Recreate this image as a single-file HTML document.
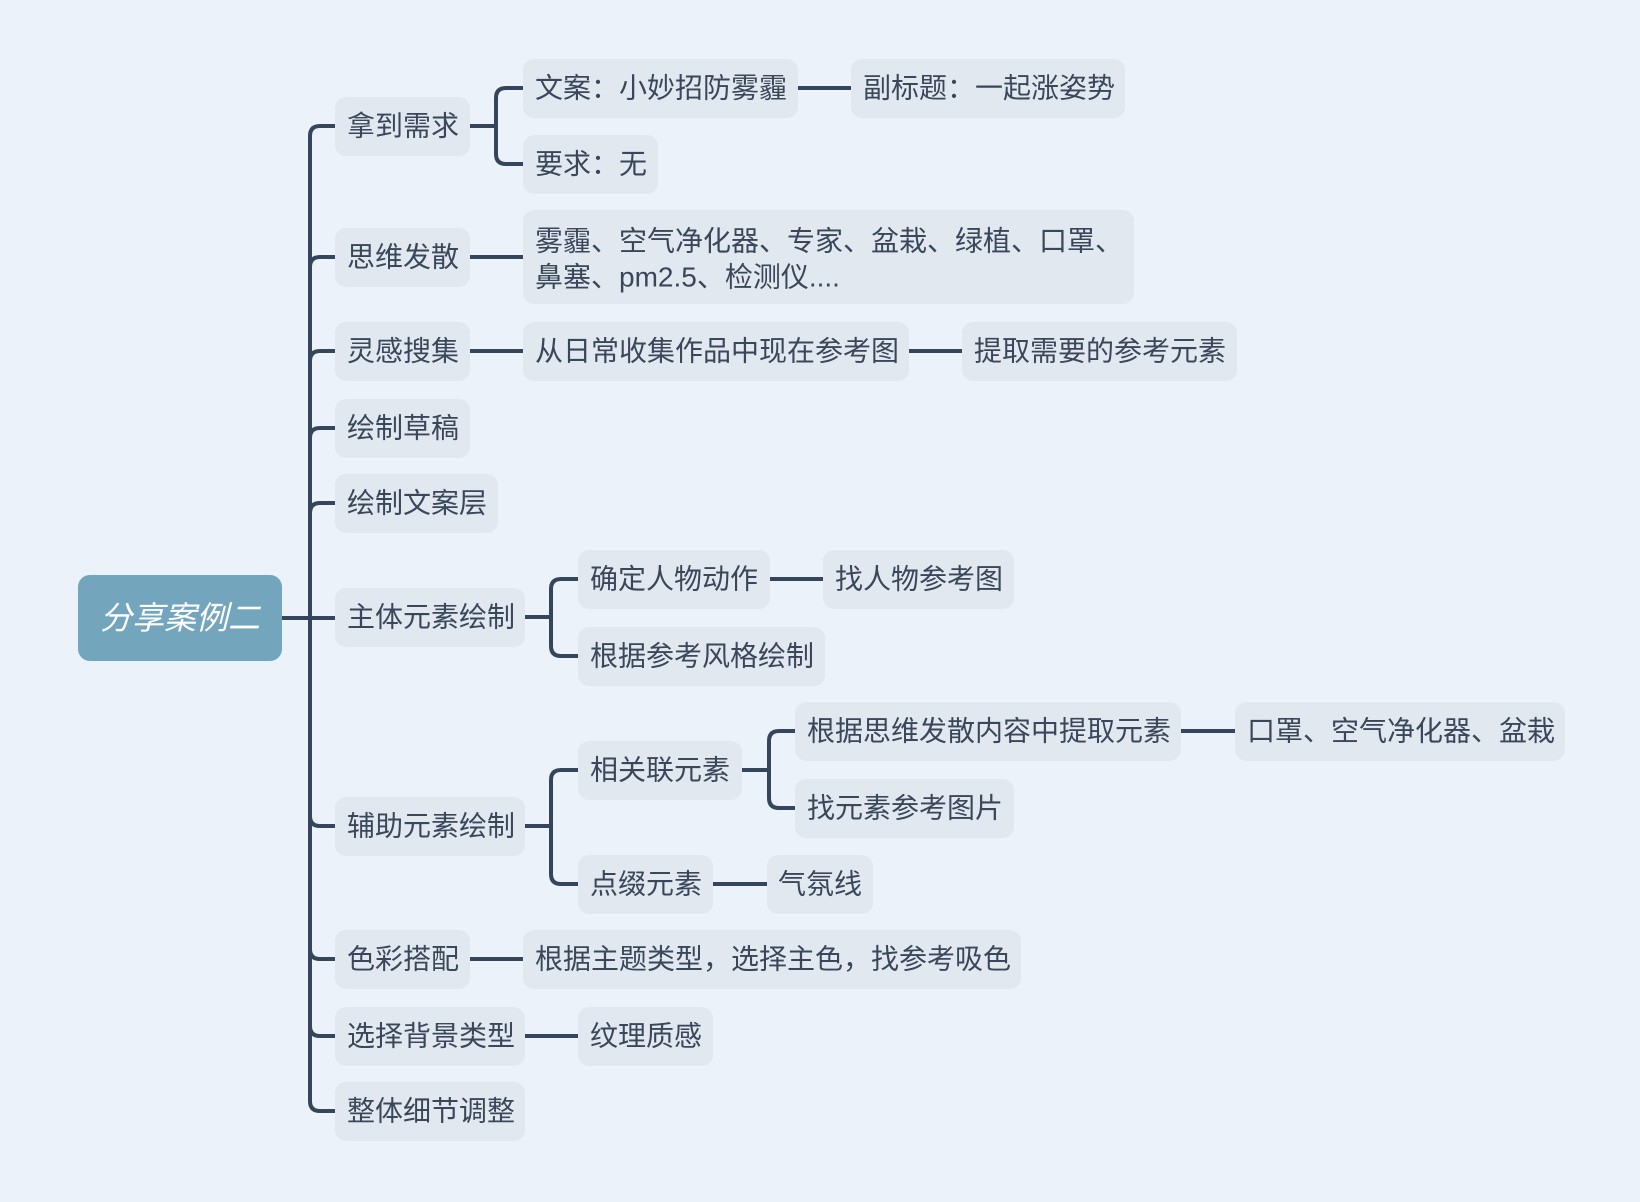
<!DOCTYPE html>
<html><head><meta charset="utf-8"><style>
html,body{margin:0;padding:0;background:#ecf2f9;}
svg{display:block}
text{font-family:"Liberation Sans","Noto Sans CJK SC",sans-serif;font-size:28px;fill:#3a475a;dominant-baseline:central}
.n{fill:#e1e8f0}
.l{stroke:#35465c;stroke-width:4;fill:none;stroke-linecap:round}
</style></head><body>
<svg width="1640" height="1202" viewBox="0 0 1640 1202" xmlns="http://www.w3.org/2000/svg">
<rect width="1640" height="1202" fill="#ecf2f9"/>
<g class="l">
<path d="M282,618 L310,618"/>
<path d="M310,618 L310,136 Q310,126 320,126 L335,126"/>
<path d="M310,618 L310,267 Q310,257 320,257 L335,257"/>
<path d="M310,618 L310,361 Q310,351 320,351 L335,351"/>
<path d="M310,618 L310,438 Q310,428 320,428 L335,428"/>
<path d="M310,618 L310,513 Q310,503 320,503 L335,503"/>
<path d="M310,618 L335,618"/>
<path d="M310,618 L310,816 Q310,826 320,826 L335,826"/>
<path d="M310,618 L310,949 Q310,959 320,959 L335,959"/>
<path d="M310,618 L310,1026 Q310,1036 320,1036 L335,1036"/>
<path d="M310,618 L310,1101 Q310,1111 320,1111 L335,1111"/>
<path d="M470,126 L496,126"/>
<path d="M496,126 L496,98 Q496,88 506,88 L523,88"/>
<path d="M496,126 L496,154 Q496,164 506,164 L523,164"/>
<path d="M798,88 L851,88"/>
<path d="M470,257 L523,257"/>
<path d="M470,351 L523,351"/>
<path d="M909,351 L962,351"/>
<path d="M525,617 L551,617"/>
<path d="M551,617 L551,589 Q551,579 561,579 L578,579"/>
<path d="M551,617 L551,646 Q551,656 561,656 L578,656"/>
<path d="M770,579 L823,579"/>
<path d="M525,826 L551,826"/>
<path d="M551,826 L551,780 Q551,770 561,770 L578,770"/>
<path d="M551,826 L551,874 Q551,884 561,884 L578,884"/>
<path d="M742,770 L769,770"/>
<path d="M769,770 L769,741 Q769,731 779,731 L795,731"/>
<path d="M769,770 L769,798 Q769,808 779,808 L795,808"/>
<path d="M1181,731 L1235,731"/>
<path d="M713,884 L767,884"/>
<path d="M470,959 L523,959"/>
<path d="M525,1036 L578,1036"/>
</g>
<rect x="78" y="575" width="204" height="86" rx="12" fill="#73a5bc"/>
<text x="180" y="618" text-anchor="middle" style="font-size:32px;fill:#fff;font-style:italic">分享案例二</text>
<rect class="n" x="335" y="97" width="135" height="59" rx="11"/><text x="347" y="126">拿到需求</text>
<rect class="n" x="335" y="228" width="135" height="59" rx="11"/><text x="347" y="257">思维发散</text>
<rect class="n" x="335" y="322" width="135" height="59" rx="11"/><text x="347" y="351">灵感搜集</text>
<rect class="n" x="335" y="399" width="135" height="59" rx="11"/><text x="347" y="428">绘制草稿</text>
<rect class="n" x="335" y="474" width="163" height="59" rx="11"/><text x="347" y="503">绘制文案层</text>
<rect class="n" x="335" y="588" width="190" height="59" rx="11"/><text x="347" y="617">主体元素绘制</text>
<rect class="n" x="335" y="797" width="190" height="59" rx="11"/><text x="347" y="826">辅助元素绘制</text>
<rect class="n" x="335" y="930" width="135" height="59" rx="11"/><text x="347" y="959">色彩搭配</text>
<rect class="n" x="335" y="1007" width="190" height="59" rx="11"/><text x="347" y="1036">选择背景类型</text>
<rect class="n" x="335" y="1082" width="190" height="59" rx="11"/><text x="347" y="1111">整体细节调整</text>
<rect class="n" x="523" y="59" width="275" height="59" rx="11"/><text x="535" y="88">文案：小妙招防雾霾</text>
<rect class="n" x="851" y="59" width="274" height="59" rx="11"/><text x="863" y="88">副标题：一起涨姿势</text>
<rect class="n" x="523" y="135" width="135" height="59" rx="11"/><text x="535" y="164">要求：无</text>
<rect class="n" x="523" y="210" width="611" height="94" rx="11"/><text x="535" y="241">雾霾、空气净化器、专家、盆栽、绿植、口罩、</text><text x="535" y="277">鼻塞、pm2.5、检测仪....</text>
<rect class="n" x="523" y="322" width="386" height="59" rx="11"/><text x="535" y="351">从日常收集作品中现在参考图</text>
<rect class="n" x="962" y="322" width="275" height="59" rx="11"/><text x="974" y="351">提取需要的参考元素</text>
<rect class="n" x="578" y="550" width="192" height="59" rx="11"/><text x="590" y="579">确定人物动作</text>
<rect class="n" x="823" y="550" width="191" height="59" rx="11"/><text x="835" y="579">找人物参考图</text>
<rect class="n" x="578" y="627" width="247" height="59" rx="11"/><text x="590" y="656">根据参考风格绘制</text>
<rect class="n" x="578" y="741" width="164" height="59" rx="11"/><text x="590" y="770">相关联元素</text>
<rect class="n" x="795" y="702" width="386" height="59" rx="11"/><text x="807" y="731">根据思维发散内容中提取元素</text>
<rect class="n" x="1235" y="702" width="330" height="59" rx="11"/><text x="1247" y="731">口罩、空气净化器、盆栽</text>
<rect class="n" x="795" y="779" width="219" height="59" rx="11"/><text x="807" y="808">找元素参考图片</text>
<rect class="n" x="578" y="855" width="135" height="59" rx="11"/><text x="590" y="884">点缀元素</text>
<rect class="n" x="767" y="855" width="106" height="59" rx="11"/><text x="778" y="884">气氛线</text>
<rect class="n" x="523" y="930" width="498" height="59" rx="11"/><text x="535" y="959">根据主题类型，选择主色，找参考吸色</text>
<rect class="n" x="578" y="1007" width="135" height="59" rx="11"/><text x="590" y="1036">纹理质感</text>
</svg>
</body></html>
